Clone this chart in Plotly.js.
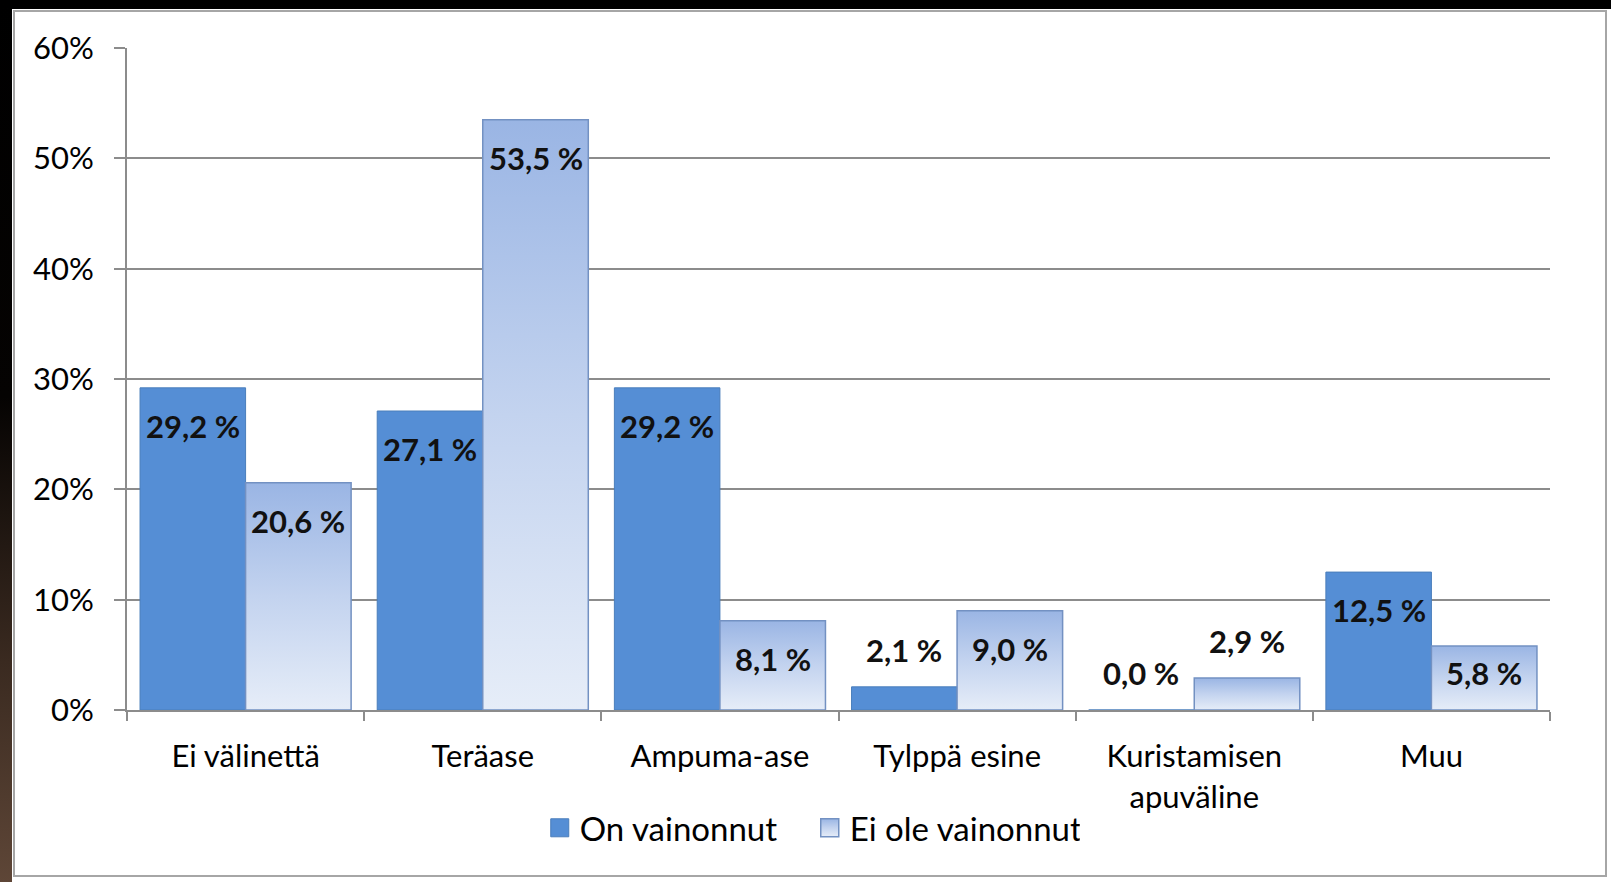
<!DOCTYPE html>
<html>
<head>
<meta charset="utf-8">
<script src="https://cdn.plot.ly/plotly-3.0.1.min.js"></script>
<style>
  html, body { margin: 0; padding: 0; }
  body {
    width: 1611px; height: 882px; overflow: hidden; position: relative;
    background: linear-gradient(to bottom, #000 0%, #050302 45%, #3a2a20 75%, #5e4637 100%);
  }
  #chart { position: absolute; left: 12px; top: 9px; width: 1599px; height: 873px; background: #fff; }
  #frame {
    position: absolute; left: 13px; top: 10px; width: 1590px; height: 863px;
    border: 2px solid #a6a6a6; pointer-events: none;
  }
</style>
</head>
<body>
<div id="chart"></div>
<div id="frame"></div>
<script>
// ---- data ----
const categories = ['Ei välinettä', 'Teräase', 'Ampuma-ase', 'Tylppä esine', 'Kuristamisen<br>apuväline', 'Muu'];
const seriesNames = ['On vainonnut', 'Ei ole vainonnut'];
const onVainonnut = [29.2, 27.1, 29.2, 2.1, 0.0, 12.5];
const eiOleVainonnut = [20.6, 53.5, 8.1, 9.0, 2.9, 5.8];

// ---- layout constants ----
const W = 1599, H = 873;
const margin = { l: 115, r: 61, t: 39, b: 172 };
const yMax = 60;
const bargap = 0.11;
const plotW = W - margin.l - margin.r;
const plotH = H - margin.t - margin.b;
const pxPerUnit = plotH / yMax;
const barPx = (plotW / categories.length) * (1 - bargap) / 2;

const fmt = v => v.toFixed(1).replace('.', ',') + ' %';

const traces = [
  {
    type: 'bar', name: seriesNames[0], x: categories, y: onVainonnut,
    marker: { color: '#558ed5', line: { color: '#4a7ebb', width: 1 } },
    hoverinfo: 'skip'
  },
  {
    type: 'bar', name: seriesNames[1], x: categories, y: eiOleVainonnut,
    marker: { color: '#c4d3ee', line: { color: '#7391c2', width: 1.5 } },
    hoverinfo: 'skip'
  }
];

const annotations = [];
[onVainonnut, eiOleVainonnut].forEach((vals, si) => {
  vals.forEach((v, ci) => {
    const hpx = v * pxPerUnit;
    let yshift;
    if (hpx > 50) yshift = -Math.min(38, hpx / 2 - 5);
    else yshift = 37;
    annotations.push({
      xref: 'x', yref: 'y', x: categories[ci], y: v,
      xshift: (si === 0 ? -1 : 1) * barPx / 2,
      yshift: yshift,
      text: fmt(v), showarrow: false,
      xanchor: 'center', yanchor: 'middle',
      font: { family: 'Lato, sans-serif', size: 31, color: '#111', weight: 'bold' }
    });
  });
});

const layout = {
  width: W, height: H,
  margin: margin,
  paper_bgcolor: '#ffffff', plot_bgcolor: '#ffffff',
  barmode: 'group', bargap: bargap, bargroupgap: 0,
  font: { family: 'Lato, sans-serif', size: 31, color: '#000' },
  showlegend: true,
  legend: {
    orientation: 'h', x: 0.4798, xanchor: 'center', y: -0.178, yanchor: 'middle',
    font: { family: 'Lato, sans-serif', size: 33, color: '#000' },
    entrywidth: 225, entrywidthmode: 'pixels',
    itemclick: false, itemdoubleclick: false
  },
  xaxis: {
    type: 'category',
    showline: true, linecolor: '#8c8c8c', linewidth: 2,
    ticks: 'outside', tickson: 'boundaries', ticklen: 9, tickcolor: '#8c8c8c', tickwidth: 2,
    ticklabelstandoff: 18,
    tickfont: { family: 'Lato, sans-serif', size: 31, color: '#000' },
    showgrid: false, fixedrange: true
  },
  yaxis: {
    range: [0, yMax], dtick: 10, ticksuffix: '%',
    showline: true, linecolor: '#8c8c8c', linewidth: 2,
    ticks: 'outside', ticklen: 11, tickcolor: '#8c8c8c', tickwidth: 2,
    ticklabelstandoff: 14,
    showgrid: true, gridcolor: '#8c8c8c', gridwidth: 2,
    zeroline: false,
    tickfont: { family: 'Lato, sans-serif', size: 31, color: '#000' },
    fixedrange: true
  },
  annotations: annotations
};

Plotly.newPlot('chart', traces, layout, { displayModeBar: false, staticPlot: true }).then(gd => {
  const NS = 'http://www.w3.org/2000/svg';
  const defs = gd.querySelector('svg.main-svg defs');
  const lg = document.createElementNS(NS, 'linearGradient');
  lg.setAttribute('id', 'lightBarGrad');
  lg.setAttribute('x1', '0'); lg.setAttribute('y1', '0');
  lg.setAttribute('x2', '0'); lg.setAttribute('y2', '1');
  [['0', '#9ab5e4'], ['0.5', '#c3d3ef'], ['1', '#e6edf8']].forEach(([o, c]) => {
    const st = document.createElementNS(NS, 'stop');
    st.setAttribute('offset', o); st.setAttribute('stop-color', c);
    lg.appendChild(st);
  });
  defs.appendChild(lg);
  const barTraces = gd.querySelectorAll('.barlayer .trace');
  if (barTraces[1]) barTraces[1].querySelectorAll('path').forEach(p => { p.style.fill = 'url(#lightBarGrad)'; });
  const legTraces = gd.querySelectorAll('.legend .traces');
  legTraces.forEach((t, i) => {
    t.querySelectorAll('.legendpoints path').forEach(p => {
      p.setAttribute('d', 'M9,9H-9V-9H9Z');
      if (i === 1) p.style.fill = 'url(#lightBarGrad)';
    });
  });
});
</script>
</body>
</html>
